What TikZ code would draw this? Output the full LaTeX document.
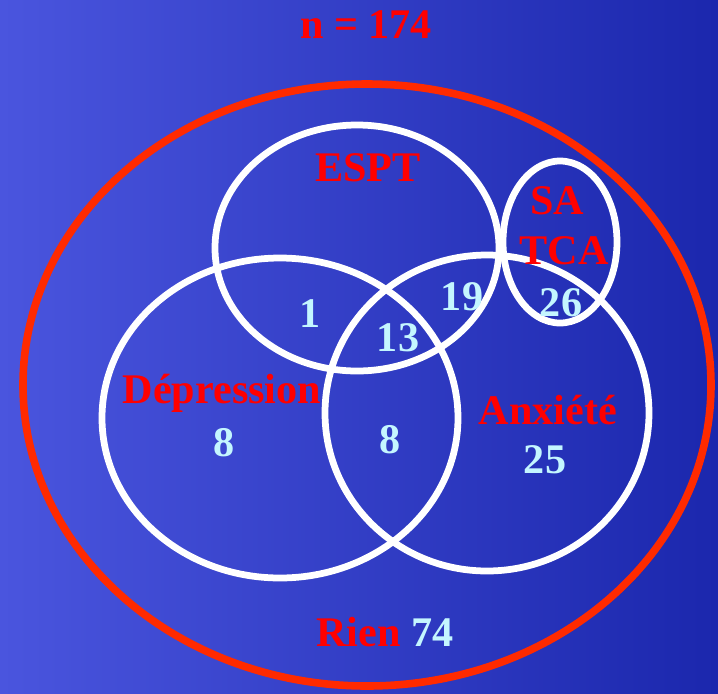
\documentclass[tikz,border=0pt]{standalone}
\usepackage{fontspec}
\setmainfont{Liberation Serif}
\definecolor{bgleft}{HTML}{4A55DE}
\definecolor{bgright}{HTML}{1B27AD}
\definecolor{setred}{HTML}{FF0000}
\definecolor{allred}{HTML}{FF2A00}
\definecolor{countcol}{HTML}{C4F6FF}
\tikzset{
  setring/.style={white,line width=4.8pt},
  allring/.style={allred,line width=5.4pt},
  setname/.style={setred,font=\fontsize{30}{32}\selectfont\bfseries,inner sep=0pt},
  count/.style={countcol,font=\fontsize{30}{32}\selectfont\bfseries,inner sep=0pt},
}

\begin{document}
\begin{tikzpicture}[x=0.025cm,y=-0.025cm]

% ---------------------------------------------------------------- background
\shade[left color=bgleft,right color=bgright] (0,0) rectangle (718,693);
\useasboundingbox (0,0) rectangle (718,693);

% ---------------------------------------------------------------- rings
\draw[allring] (367,385) ellipse [x radius=344, y radius=301]; % everyone
\draw[setring] (357,248) ellipse [x radius=142, y radius=123]; % ESPT
\draw[setring] (280,418) ellipse [x radius=178, y radius=160]; % depression
\draw[setring] (487,413) ellipse [x radius=162, y radius=158]; % anxiety
\draw[setring] (560,242) ellipse [x radius=57, y radius=81];   % SA / TCA

% ---------------------------------------------------------------- set names
\node[setname] (total) at (366,25) {n = 174};
\node[setname] (espt) at (368,168) {ESPT};
\node[setname] (sa) at (557,201) {SA};
\node[setname] (tca) at (564,251) {TCA};
\node[setname] (dep) at (222,393) {Dépression};
\node[setname] (anx) at (548,410) {Anxiété};
\node[setname] (rien) at (385,632) {Rien \textcolor{countcol}{74}};

% ---------------------------------------------------------------- counts
\node[count] (nespdep) at (310,314) {1};
\node[count] (nespanx) at (462,297) {19};
\node[count] (nsatca) at (561,303) {26};
\node[count] (nall) at (398,338) {13};
\node[count] (ndep) at (224,443) {8};
\node[count] (ndepanx) at (390,440) {8};
\node[count] (nanx) at (545,460) {25};

\end{tikzpicture}
\end{document}
